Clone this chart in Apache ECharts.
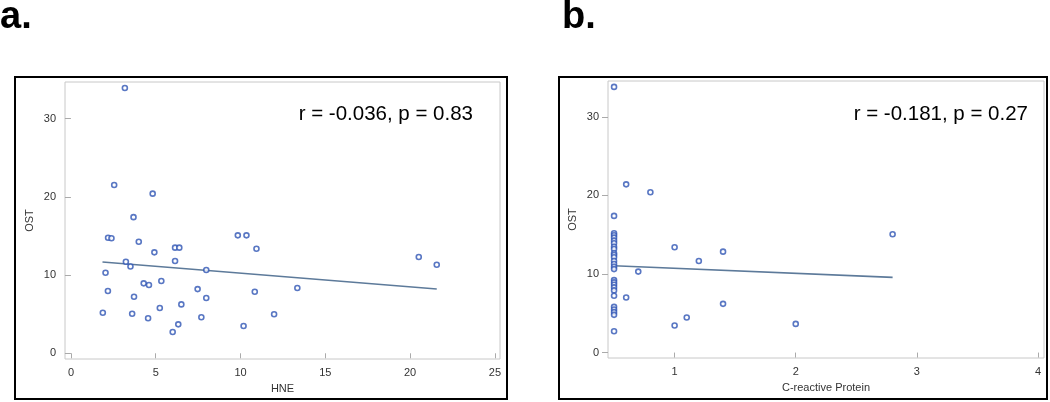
<!DOCTYPE html>
<html>
<head>
<meta charset="utf-8">
<script src="https://cdn.jsdelivr.net/npm/echarts@6/dist/echarts.min.js"></script>
<style>html,body{margin:0;padding:0;background:#fff}#c{width:1050px;height:402px}</style>
</head>
<body>
<div id="c"></div>
<script>
// Panel a: HNE vs OST
const hneX = [3.18,2.55,4.82,3.69,2.19,2.39,4.0,4.92,6.14,6.39,3.24,3.51,6.14,7.98,2.04,4.29,4.6,5.33,2.18,3.72,7.47,7.98,6.51,1.88,3.61,5.24,4.55,7.69,6.33,6.0,9.84,10.35,10.94,10.84,10.18,20.51,21.57,13.35,11.98];
const hneY = [33.9,21.5,20.4,17.4,14.77,14.7,14.26,12.9,13.5,13.5,11.7,11.1,11.8,10.64,10.3,8.94,8.72,9.23,7.96,7.23,8.2,7.06,6.25,5.19,5.06,5.79,4.47,4.6,3.7,2.72,15.07,15.07,13.36,7.87,3.49,12.3,11.32,8.34,4.98];
const fitA = [[1.86,11.66],[21.57,8.21]];
// Panel b: C-reactive Protein vs OST
const crpX = [0.5,0.5,0.5,0.5,0.5,0.5,0.5,0.5,0.5,0.5,0.5,0.5,0.5,0.5,0.5,0.5,0.5,0.5,0.5,0.5,0.5,0.5,0.5,0.5,0.5,0.5,0.5,
              0.6,0.8,1.0,1.2,1.4,0.7,0.6,1.4,1.1,1.0,2.0,2.8];
const crpY = [33.8,17.39,15.18,14.92,14.62,14.24,13.9,13.47,13.18,12.63,12.41,12.12,11.65,11.26,10.92,10.62,9.22,8.93,8.62,8.29,7.91,7.22,5.82,5.48,5.14,4.8,2.72,
              21.4,20.4,13.4,11.65,12.84,10.3,7.0,6.2,4.46,3.44,3.65,15.05];
const fitB = [[0.5,11.05],[2.8,9.57]];
const ticksAX = [0,5,10,15,20,25];
const ticksBX = [1,2,3,4];
const ticksY = [0,10,20,30];
const statA = 'r = -0.036, p = 0.83';
const statB = 'r = -0.181, p = 0.27';

const zip = (a,b) => a.map((v,i)=>[v,b[i]]);
const labelStyle = {color:'#333', fontSize:11, fontFamily:'Liberation Sans, Arial, sans-serif'};
function xAxis(idx, min, max, ticks, name){
  return {type:'value', gridIndex:idx, min:min, max:max, name:name, nameLocation:'middle', nameGap:24,
    nameTextStyle:labelStyle,
    axisLine:{show:false}, splitLine:{show:false},
    axisTick:{show:true, length:5, lineStyle:{color:'#aaa'}, customValues:ticks},
    axisLabel:Object.assign({margin:8, customValues:ticks}, labelStyle)};
}
function yAxis(idx, min, max){
  return {type:'value', gridIndex:idx, min:min, max:max, name:'OST', nameLocation:'middle', nameGap:30,
    nameTextStyle:labelStyle,
    axisLine:{show:false}, splitLine:{show:false},
    axisTick:{show:true, length:6, lineStyle:{color:'#aaa'}, customValues:ticksY},
    axisLabel:Object.assign({margin:9, customValues:ticksY}, labelStyle)};
}
const scatterStyle = {type:'scatter', symbol:'circle', symbolSize:5,
  itemStyle:{color:'#fff', borderColor:'#2f55b4', borderWidth:1.6}, silent:true};
const lineStyle = {type:'line', symbol:'none', lineStyle:{color:'#5d7a9a', width:1.6}, silent:true, z:1};

const chart = echarts.init(document.getElementById('c'));
chart.setOption({
  animation:false,
  backgroundColor:'#fff',
  grid:[
    {left:65, top:82, width:435, height:277, show:true, borderColor:'#c8c8c8', borderWidth:1},
    {left:608, top:81, width:436, height:277, show:true, borderColor:'#c8c8c8', borderWidth:1}
  ],
  xAxis:[xAxis(0,-0.35,25.3,ticksAX,'HNE'), xAxis(1,0.45,4.05,ticksBX,'C-reactive Protein')],
  yAxis:[yAxis(0,-0.73,34.67), yAxis(1,-0.69,34.55)],
  series:[
    Object.assign({}, lineStyle, {xAxisIndex:0, yAxisIndex:0, data:fitA}),
    Object.assign({}, scatterStyle, {xAxisIndex:0, yAxisIndex:0, data:zip(hneX,hneY)}),
    Object.assign({}, lineStyle, {xAxisIndex:1, yAxisIndex:1, data:fitB}),
    Object.assign({}, scatterStyle, {xAxisIndex:1, yAxisIndex:1, data:zip(crpX,crpY)})
  ],
  graphic:[
    {type:'rect', shape:{x:15, y:77, width:492, height:322}, style:{fill:'none', stroke:'#000', lineWidth:2}},
    {type:'rect', shape:{x:559, y:77, width:488, height:322}, style:{fill:'none', stroke:'#000', lineWidth:2}},
    {type:'text', x:0, y:18, style:{text:'a.', fill:'#000', font:'bold 38px "Liberation Sans", Arial, sans-serif', verticalAlign:'middle'}},
    {type:'text', x:562, y:18, style:{text:'b.', fill:'#000', font:'bold 38px "Liberation Sans", Arial, sans-serif', verticalAlign:'middle'}},
    {type:'text', x:473, y:114, style:{text:statA, fill:'#000', font:'20.5px "Liberation Sans", Arial, sans-serif', align:'right', verticalAlign:'middle'}},
    {type:'text', x:1028, y:114, style:{text:statB, fill:'#000', font:'20.5px "Liberation Sans", Arial, sans-serif', align:'right', verticalAlign:'middle'}}
  ]
});
</script>
</body>
</html>
